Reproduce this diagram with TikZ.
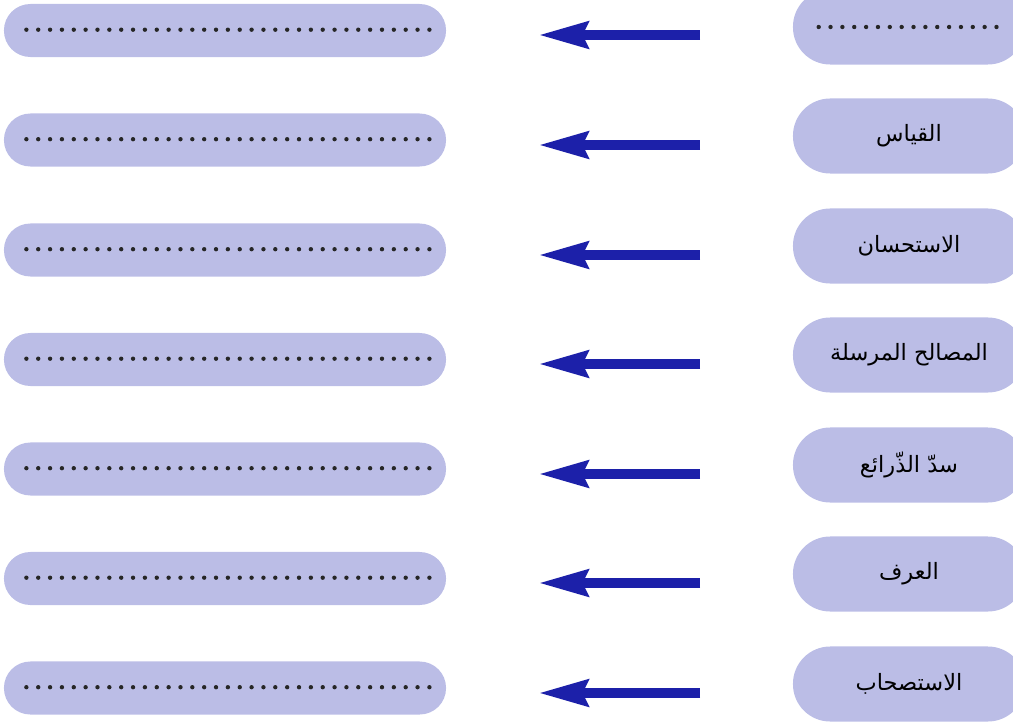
\documentclass[tikz,border=0pt]{standalone}
\usepackage{fontspec}
\newfontfamily\arabicfont[Script=Arabic]{DejaVu Sans}
\TeXXeTstate=1
\usetikzlibrary{arrows.meta}
\definecolor{boxfill}{RGB}{187,189,230}
\definecolor{arrowblue}{RGB}{28,32,169}
\tikzset{
  ansbox/.style={rectangle, rounded corners=6.6mm, fill=boxfill, minimum width=11.05cm, minimum height=1.325cm, inner sep=0pt},
  srcbox/.style={rectangle, rounded corners=9.3mm, fill=boxfill, minimum width=5.8cm, minimum height=1.875cm, inner sep=0pt, font=\arabicfont\fontsize{16}{18}\selectfont},
  dotline/.style={line width=3.1pt, line cap=round, dash pattern=on 0pt off 8.43pt, black!85},
  bigarrow/.style={line width=2.35mm, arrowblue, -{Stealth[length=12.25mm, width=6.6mm, inset=1.4mm]}}
}
\begin{document}
\begin{tikzpicture}[x=0.025cm, y=-0.025cm]
\useasboundingbox (0,0) rectangle (1013,722);
\clip (0,0) rectangle (1013,722);
% answer boxes (left)
\node[ansbox] (ans1) at (225,30.5){};
\node[ansbox] (ans2) at (225,140){};
\node[ansbox] (ans3) at (225,250){};
\node[ansbox] (ans4) at (225,359.5){};
\node[ansbox] (ans5) at (225,469){};
\node[ansbox] (ans6) at (225,578.5){};
\node[ansbox] (ans7) at (225,688){};
\draw[dotline] ([xshift=22.7*0.025cm,yshift=0.02cm]ans1.west) -- ([xshift=-16*0.025cm,yshift=0.02cm]ans1.east);
\draw[dotline] ([xshift=22.7*0.025cm,yshift=0.02cm]ans2.west) -- ([xshift=-16*0.025cm,yshift=0.02cm]ans2.east);
\draw[dotline] ([xshift=22.7*0.025cm,yshift=0.02cm]ans3.west) -- ([xshift=-16*0.025cm,yshift=0.02cm]ans3.east);
\draw[dotline] ([xshift=22.7*0.025cm,yshift=0.02cm]ans4.west) -- ([xshift=-16*0.025cm,yshift=0.02cm]ans4.east);
\draw[dotline] ([xshift=22.7*0.025cm,yshift=0.02cm]ans5.west) -- ([xshift=-16*0.025cm,yshift=0.02cm]ans5.east);
\draw[dotline] ([xshift=22.7*0.025cm,yshift=0.02cm]ans6.west) -- ([xshift=-16*0.025cm,yshift=0.02cm]ans6.east);
\draw[dotline] ([xshift=22.7*0.025cm,yshift=0.02cm]ans7.west) -- ([xshift=-16*0.025cm,yshift=0.02cm]ans7.east);
% source boxes (right)
\node[srcbox] (src1) at (909,27){};
\node[srcbox] (src2) at (909,136){\beginR القياس\endR};
\node[srcbox] (src3) at (909,246){\beginR الاستحسان\endR};
\node[srcbox] (src4) at (909,355){\beginR المصالح المرسلة\endR};
\node[srcbox] (src5) at (909,465){\beginR سدّ الذّرائع\endR};
\node[srcbox] (src6) at (909,574){\beginR العرف\endR};
\node[srcbox] (src7) at (909,684){\beginR الاستصحاب\endR};
\draw[dotline] ([xshift=26*0.025cm,yshift=0cm]src1.west) -- ([xshift=205*0.025cm,yshift=0cm]src1.west);
% arrows
\coordinate (from1) at (700,35);  \coordinate (to1) at (539,35);
\coordinate (from2) at (700,145); \coordinate (to2) at (539,145);
\coordinate (from3) at (700,255); \coordinate (to3) at (539,255);
\coordinate (from4) at (700,364); \coordinate (to4) at (539,364);
\coordinate (from5) at (700,474); \coordinate (to5) at (539,474);
\coordinate (from6) at (700,583); \coordinate (to6) at (539,583);
\coordinate (from7) at (700,693); \coordinate (to7) at (539,693);
\draw[bigarrow] (from1) -- (to1);
\draw[bigarrow] (from2) -- (to2);
\draw[bigarrow] (from3) -- (to3);
\draw[bigarrow] (from4) -- (to4);
\draw[bigarrow] (from5) -- (to5);
\draw[bigarrow] (from6) -- (to6);
\draw[bigarrow] (from7) -- (to7);
\end{tikzpicture}
\end{document}
